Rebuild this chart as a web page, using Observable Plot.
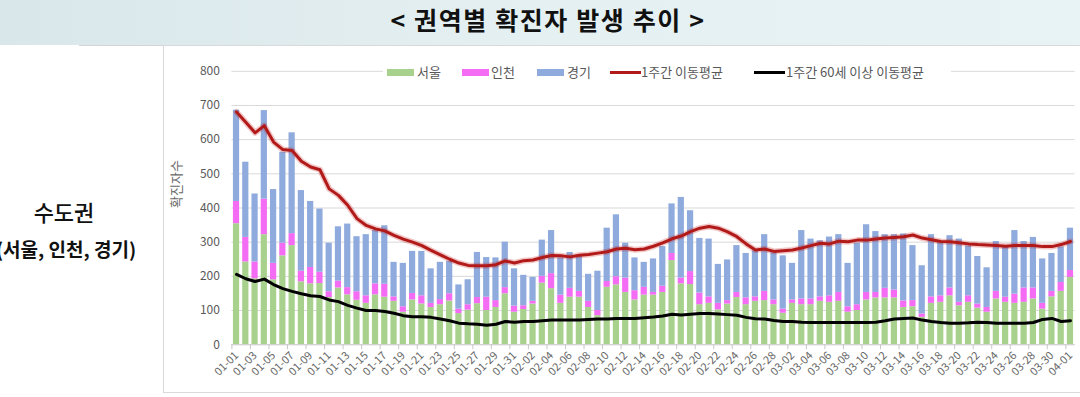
<!DOCTYPE html>
<html>
<head>
<meta charset="utf-8">
<script src="https://cdn.jsdelivr.net/npm/d3@7"></script>
<script src="https://cdn.jsdelivr.net/npm/@observablehq/plot@0.6"></script>
<style>
  body { margin: 0; background: #fff; }
  #page { position: relative; width: 1080px; height: 397px; overflow: hidden; background: #fff;
          font-family: "Noto Sans CJK KR", "Noto Sans", sans-serif; }
  .abs { position: absolute; }
  .lg-text { position: absolute; top: 63px; font-size: 13px; line-height: 18px; color: #595959; white-space: nowrap; }
  .sw { position: absolute; top: 69px; width: 27px; height: 7px; }
  .ln { position: absolute; top: 71px; width: 31px; height: 3px; }
</style>
</head>
<body>
<div id="page">
  <div class="abs" style="left:0;top:0;width:1080px;height:45px;background:linear-gradient(90deg,#dae7ea,#e4f0f2 50%,#e8f3f5);"></div>
  <div class="abs" style="left:79px;top:45px;width:1001px;height:1px;background:#d4d4d4;"></div>
  <div class="abs" style="left:0;top:4px;width:1096px;text-align:center;font-size:25px;line-height:30px;font-weight:700;letter-spacing:1.6px;color:#111;">&lt; 권역별 확진자 발생 추이 &gt;</div>

  <div class="abs" style="left:0;top:197px;width:128px;text-align:center;font-size:22px;line-height:28px;font-weight:500;color:#111;">수도권</div>
  <div class="abs" style="left:-14px;top:237px;width:160px;text-align:center;font-size:19px;line-height:24px;font-weight:700;color:#111;white-space:nowrap;">(서울, 인천, 경기)</div>

  <div class="abs" style="left:163px;top:45px;width:917px;height:348px;border:1px solid #d9d9d9;border-right:none;box-sizing:border-box;"></div>
  <div id="chart" class="abs" style="left:163px;top:46px;"></div>

  <div class="abs" style="left:383px;top:64px;width:568px;height:17px;background:#fff;"></div>
  <div class="sw" style="left:387px;background:#a9d18e;"></div>
  <div class="lg-text" style="left:417px;">서울</div>
  <div class="sw" style="left:462px;background:#f46cf4;"></div>
  <div class="lg-text" style="left:491px;">인천</div>
  <div class="sw" style="left:537px;background:#8faadc;"></div>
  <div class="lg-text" style="left:567px;">경기</div>
  <div class="ln" style="left:610px;background:#b21a1a;"></div>
  <div class="lg-text" style="left:641px;">1주간 이동평균</div>
  <div class="ln" style="left:754px;background:#000;"></div>
  <div class="lg-text" style="left:786px;">1주간 60세 이상 이동평균</div>
</div>
<script>
const dates = [
  "01-01","01-02","01-03","01-04","01-05","01-06","01-07","01-08","01-09","01-10",
  "01-11","01-12","01-13","01-14","01-15","01-16","01-17","01-18","01-19","01-20",
  "01-21","01-22","01-23","01-24","01-25","01-26","01-27","01-28","01-29","01-30","01-31",
  "02-01","02-02","02-03","02-04","02-05","02-06","02-07","02-08","02-09","02-10",
  "02-11","02-12","02-13","02-14","02-15","02-16","02-17","02-18","02-19","02-20",
  "02-21","02-22","02-23","02-24","02-25","02-26","02-27","02-28",
  "03-01","03-02","03-03","03-04","03-05","03-06","03-07","03-08","03-09","03-10",
  "03-11","03-12","03-13","03-14","03-15","03-16","03-17","03-18","03-19","03-20",
  "03-21","03-22","03-23","03-24","03-25","03-26","03-27","03-28","03-29","03-30","03-31",
  "04-01"
];
const seoul = [
  354,242,193,322,190,260,290,184,178,179,138,166,146,130,121,146,139,127,95,131,
  119,109,117,128,91,101,120,100,109,149,95,103,119,180,164,121,139,139,109,85,
  168,175,153,131,145,145,153,246,178,176,117,121,102,119,138,117,127,129,117,92,
  121,117,117,127,124,127,95,100,131,137,137,137,109,111,80,121,124,143,114,124,
  107,95,134,124,121,124,134,104,140,156,197
];
const incheon = [
  65,72,49,104,48,37,35,31,48,33,17,20,21,25,22,32,38,13,16,19,
  24,12,15,21,13,16,18,39,20,18,18,11,8,20,44,24,26,17,18,15,
  17,24,42,27,23,8,18,21,17,38,34,19,19,10,15,20,13,27,14,12,
  10,17,17,13,19,26,16,17,22,16,28,23,19,18,10,19,19,23,10,19,
  12,14,22,15,27,42,32,17,16,26,20
];
const gyeonggi = [
  267,220,199,259,216,266,295,236,193,185,142,159,186,161,179,156,171,101,127,123,
  130,101,109,95,71,73,132,116,125,133,109,89,70,106,126,109,105,102,79,115,
  156,181,102,96,73,98,116,145,236,178,160,169,114,119,137,130,135,166,138,156,
  107,200,175,164,172,169,127,180,198,178,157,162,196,161,141,182,156,153,185,146,
  139,116,146,151,186,136,148,130,111,104,124
];
const ma7 = [
  681,651,620,641,593,571,568,537,520,512,456,437,408,369,349,339,333,320,309,300,
  290,276,263,250,239,232,231,231,234,245,239,246,248,255,261,260,257,262,264,268,
  272,280,282,278,280,288,298,310,318,331,341,346,341,330,316,295,277,280,273,275,
  277,283,290,297,295,303,301,306,306,309,312,314,316,321,312,307,302,301,298,295,
  293,292,290,288,290,290,290,287,287,293,302
];
const ma60 = [
  206,193,185,192,176,164,156,149,143,141,131,126,115,107,100,100,97,92,85,82,
  82,80,75,70,63,61,60,57,60,68,66,68,68,70,72,72,72,72,74,75,
  75,77,77,77,79,81,84,89,87,89,91,91,90,88,86,80,76,75,71,68,
  68,66,65,65,65,65,65,65,65,66,70,75,77,78,72,68,65,63,63,64,
  66,65,63,63,63,63,65,74,77,68,70
];
const regions = ["서울", "인천", "경기"];
const regionColors = ["#a9d18e", "#f46cf4", "#8faadc"];
const yTicks = [0, 100, 200, 300, 400, 500, 600, 700, 800];
const xTickLabels = dates.filter((d, i) => i % 2 === 0);

const series = [seoul, incheon, gyeonggi];
const rows = dates.flatMap((d, i) => regions.map((r, k) => ({date: d, region: r, value: series[k][i]})));
const lineRows = dates.map((d, i) => ({date: d, ma: ma7[i], ma60: ma60[i]}));

const W = 917, H = 347, ML = 68.4, MR = 5.4;
const step = (W - ML - MR) / dates.length;

const chart = Plot.plot({
  width: W,
  height: H,
  marginLeft: ML,
  marginRight: MR,
  marginTop: 24.8,
  marginBottom: 48.8,
  style: {fontFamily: '"Noto Sans CJK KR", "Noto Sans", sans-serif', fontSize: "12px", color: "#595959", background: "transparent", overflow: "visible"},
  x: {type: "band", domain: dates, paddingInner: 0.33, paddingOuter: 0.165, round: false, label: null},
  y: {domain: [0, 800], label: null},
  color: {domain: regions, range: regionColors},
  marks: [
    Plot.gridY(yTicks, {stroke: "#d9d9d9", strokeOpacity: 1}),
    Plot.barY(rows, {x: "date", y: "value", fill: "region", order: regions}),
    Plot.ruleY([0], {stroke: "#d0d0d0"}),
    Plot.line(lineRows, {x: "date", y: "ma", stroke: "#c00000", strokeWidth: 6, strokeOpacity: 0.22}),
    Plot.line(lineRows, {x: "date", y: "ma", stroke: "#b21a1a", strokeWidth: 3}),
    Plot.line(lineRows, {x: "date", y: "ma60", stroke: "#000", strokeWidth: 3}),
    Plot.axisY({ticks: yTicks, tickSize: 0, tickPadding: 12, fontSize: 12, fill: "#595959"}),
    Plot.axisX({ticks: xTickLabels, tickSize: 5, tickFormat: () => "", dx: -step / 2, stroke: "#c8c8c8"}),
    Plot.axisX({ticks: xTickLabels, tickSize: 0, tickPadding: 9, tickRotate: -45, fontSize: 11, fill: "#666"}),
    Plot.text(["확진자수"], {frameAnchor: "left", rotate: -90, dx: -55, fontSize: 13, fill: "#666"})
  ]
});
document.getElementById("chart").appendChild(chart);
</script>
</body>
</html>
